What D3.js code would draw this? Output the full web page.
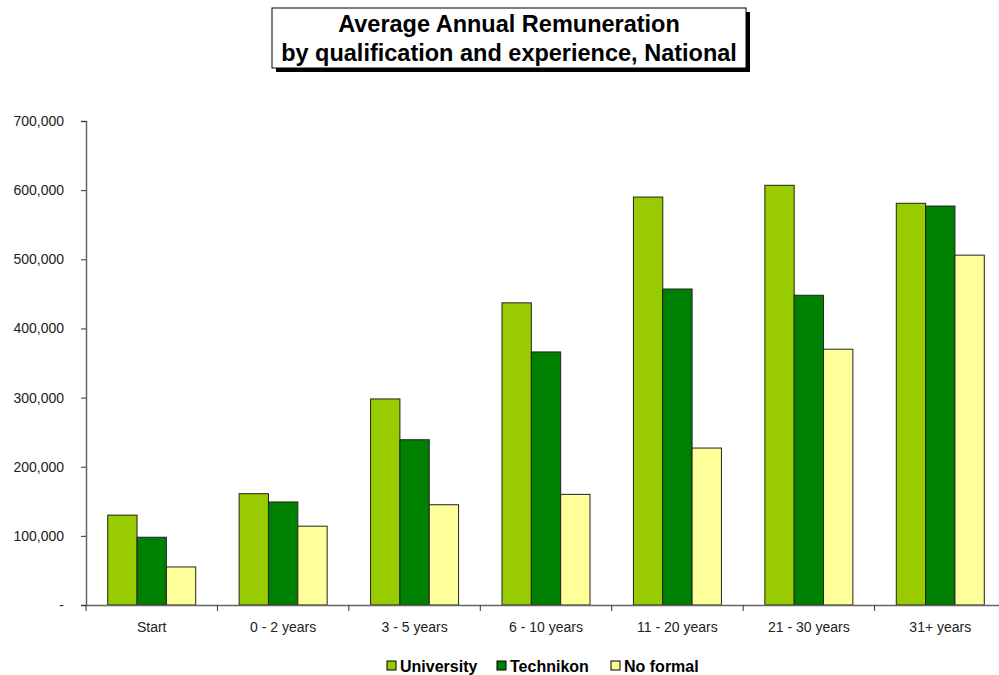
<!DOCTYPE html>
<html>
<head>
<meta charset="utf-8">
<script src="https://cdn.jsdelivr.net/npm/d3@7"></script>
<style>
  body { margin: 0; background: #fff; }
  svg { font-family: "Liberation Sans", Arial, sans-serif; }
</style>
</head>
<body>
<svg width="999" height="675"></svg>
<script>
let categories = ["Start", "0 - 2 years", "3 - 5 years", "6 - 10 years", "11 - 20 years", "21 - 30 years", "31+ years"];
let seriesNames = ["University", "Technikon", "No formal"];
let university = [130000, 161000, 298000, 437000, 590000, 607000, 581000];
let technikon = [98000, 149000, 239000, 366000, 457000, 448000, 577000];
let noFormal = [55000, 114000, 145000, 160000, 227000, 370000, 506000];
let yTicks = [0, 100000, 200000, 300000, 400000, 500000, 600000, 700000];
let colors = ["#99CC00", "#008000", "#FFFF99"];

window.addEventListener('load', e => {
    drawChart();
});

function drawChart() {
    let svg = d3.select("svg");
    let left = 86, right = 1006, top = 121, bottom = 605;
    let series = [university, technikon, noFormal];

    let xScale = d3.scaleBand()
                   .domain(categories)
                   .range([left, right])
                   .paddingInner(0)
                   .paddingOuter(0);

    let inner = d3.scaleBand()
                  .domain(seriesNames)
                  .range([0, xScale.bandwidth()])
                  .paddingOuter(0.74)
                  .paddingInner(0);

    let yScale = d3.scaleLinear()
                   .domain([0, 700000])
                   .range([bottom, top]);

    // title box with shadow
    svg.append("rect").attr("x", 276).attr("y", 12).attr("width", 474).attr("height", 60).attr("fill", "#000");
    svg.append("rect").attr("x", 272).attr("y", 8).attr("width", 474).attr("height", 60)
       .attr("fill", "#fff").attr("stroke", "#000").attr("stroke-width", 1);
    svg.append("text").attr("x", 509).attr("y", 32).attr("text-anchor", "middle")
       .attr("font-size", 23.5).attr("font-weight", "bold").text("Average Annual Remuneration");
    svg.append("text").attr("x", 509).attr("y", 61).attr("text-anchor", "middle")
       .attr("font-size", 23.5).attr("font-weight", "bold").text("by qualification and experience, National");

    // bars
    let groups = svg.selectAll(".grp")
        .data(categories)
        .enter()
        .append("g")
        .attr("transform", d => "translate(" + xScale(d) + ",0)");

    groups.selectAll("rect")
        .data((d, i) => seriesNames.map((s, j) => ({ s: s, v: series[j][i], c: colors[j] })))
        .enter()
        .append("rect")
        .attr("x", d => inner(d.s))
        .attr("y", d => yScale(d.v))
        .attr("width", inner.bandwidth())
        .attr("height", d => bottom - yScale(d.v))
        .attr("fill", d => d.c)
        .attr("stroke", "#222")
        .attr("stroke-width", 1);

    // y axis
    let yAxis = svg.append("g")
        .attr("transform", "translate(" + left + ",0)")
        .call(d3.axisLeft(yScale)
                .tickValues(yTicks)
                .tickSize(5)
                .tickPadding(17)
                .tickFormat(d => d === 0 ? "-" : d3.format(",")(d)));
    yAxis.select(".domain").attr("stroke", "#666").attr("stroke-width", 1.5);
    yAxis.selectAll(".tick line").attr("stroke", "#333");
    yAxis.selectAll("text").attr("font-size", 14).attr("fill", "#222")
         .attr("font-family", "Liberation Sans, Arial, sans-serif");

    // x axis
    let xAxis = svg.append("g")
        .attr("transform", "translate(0," + bottom + ")")
        .call(d3.axisBottom(xScale).tickSize(0).tickPadding(17));
    xAxis.select(".domain").attr("stroke", "#666").attr("stroke-width", 1.5);
    xAxis.selectAll("text").attr("font-size", 14).attr("fill", "#222")
         .attr("font-family", "Liberation Sans, Arial, sans-serif");

    xAxis.selectAll(".sep")
        .data(categories)
        .enter()
        .append("line")
        .attr("x1", d => xScale(d))
        .attr("x2", d => xScale(d))
        .attr("y1", 0)
        .attr("y2", 6)
        .attr("stroke", "#333");

    // legend
    let legendX = [387, 497, 611];
    let legend = svg.append("g");
    seriesNames.forEach((s, i) => {
        legend.append("rect")
              .attr("x", legendX[i]).attr("y", 661)
              .attr("width", 9).attr("height", 9)
              .attr("fill", colors[i]).attr("stroke", "#000");
        legend.append("text")
              .attr("x", legendX[i] + 13).attr("y", 672)
              .attr("font-size", 16).attr("font-weight", "bold")
              .text(s);
    });
}
</script>
</body>
</html>
